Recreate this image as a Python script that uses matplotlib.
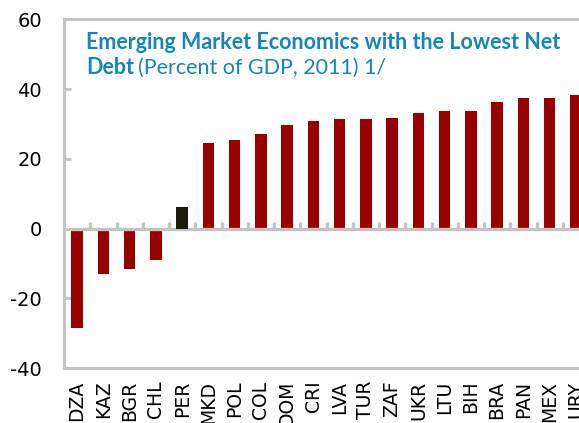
import numpy as np
import matplotlib
matplotlib.use("Agg")
import matplotlib.pyplot as plt

# Net debt, percent of GDP, 2011
countries = ["DZA", "KAZ", "BGR", "CHL", "PER", "MKD", "POL", "COL", "DOM", "CRI",
             "LVA", "TUR", "ZAF", "UKR", "LTU", "BIH", "BRA", "PAN", "MEX", "URY"]
net_debt = [-28.5, -13.1, -11.6, -9.0, 6.3, 24.6, 25.4, 27.1, 29.7, 30.9,
            31.4, 31.4, 31.7, 33.3, 33.8, 33.8, 36.4, 37.5, 37.5, 38.4]
highlight = "PER"
yticks = [-40, -20, 0, 20, 40, 60]

RED = "#990000"
DARK = "#1c1a0b"
GRAY = "#c3c3c3"
BLUE = "#1486b9"

W, H = 579, 423
fig = plt.figure(figsize=(W / 100, H / 100), dpi=100)
ax = fig.add_axes([64 / W, 1 - 368 / H, (589 - 64) / W, (368 - 19.5) / H])

x = np.arange(len(countries))
colors = [DARK if c == highlight else RED for c in countries]
bars = ax.bar(x, net_debt, width=0.44, color=colors, zorder=2)
# the highlighted bar sits on top of the zero line
for b, c in zip(bars, countries):
    if c == highlight:
        b.set_zorder(4)

# zero line with short separators between categories
ax.axhline(0, color=GRAY, lw=2.4, zorder=3)
ax.vlines(x[:-1] + 0.5, 0, 1.9, color=GRAY, lw=2.4, zorder=3)

ax.set_xlim(-0.5, len(countries) - 0.5)
ax.set_ylim(-40, 60)
ax.set_yticks(yticks)
ax.set_yticklabels([str(v) for v in yticks], fontsize=14, family="DejaVu Sans")
ax.set_xticks(x)
ax.set_xticklabels(countries, rotation=90, fontsize=13.5, family="DejaVu Sans",
                   va="top", ha="center")
ax.tick_params(axis="y", direction="in", length=5, width=2, color=GRAY, pad=16)
ax.tick_params(axis="x", length=0, pad=9)

for side in ["left", "top", "bottom", "right"]:
    ax.spines[side].set_color(GRAY)
    ax.spines[side].set_linewidth(2.2)

# title, two lines, partly bold
title_font = dict(family="Lato", fontsize=15.5, color=BLUE)
fig.text(86 / W, 1 - 49 / H, "Emerging Market Economics with the Lowest Net",
         fontweight="bold", va="baseline", **title_font)
t2 = fig.text(86 / W, 1 - 74 / H, "Debt", fontweight="bold", va="baseline",
              **title_font)
fig.canvas.draw()
bb = t2.get_window_extent()
fig.text(bb.x1 / W + 4 / W, 1 - 74 / H, "(Percent of GDP, 2011) 1/",
         va="baseline", **title_font)

fig.savefig("out.png", dpi=100)
